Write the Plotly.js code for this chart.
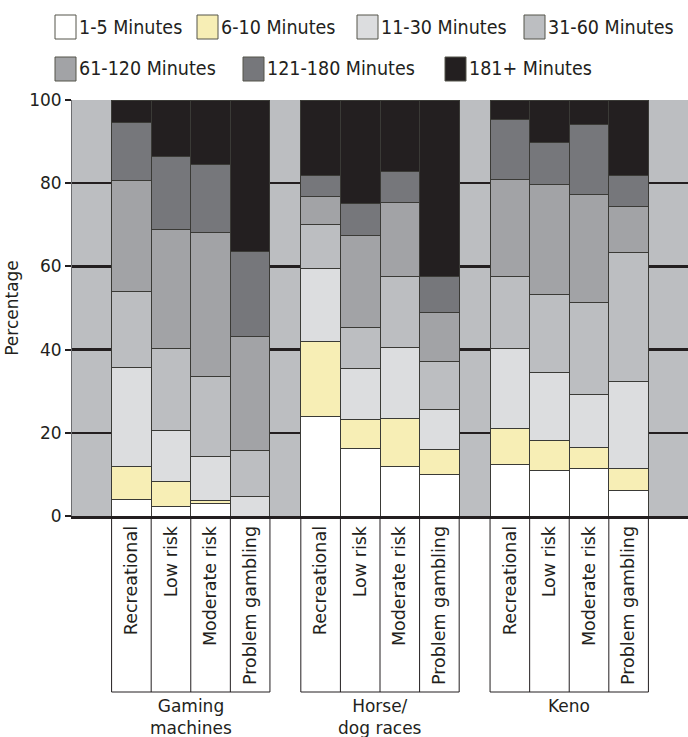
<!DOCTYPE html>
<html>
<head>
<meta charset="utf-8">
<script src="https://cdn.plot.ly/plotly-3.0.1.min.js"></script>
<style>
  html, body { margin: 0; padding: 0; background: #fff; }
  #chart { width: 688px; height: 737px; }
</style>
</head>
<body>
<div id="chart"></div>
<script>
// ---- Data ----
const groups = ["Gaming machines", "Horse/ dog races", "Keno"];
const groupLabels = ["Gaming<br>machines", "Horse/<br>dog races", "Keno"];
const categories = ["Recreational", "Low risk", "Moderate risk", "Problem gambling"];
const seriesNames = ["1-5 Minutes", "6-10 Minutes", "11-30 Minutes", "31-60 Minutes",
                     "61-120 Minutes", "121-180 Minutes", "181+ Minutes"];
// Each array: 12 values = 3 groups x 4 categories (group-major order)
const min1_5    = [4.0, 2.3, 3.0, 0.0,   23.9, 16.3, 11.8, 9.9,   12.4, 11.0, 11.4, 6.2];
const min6_10   = [7.9, 5.9, 0.8, 0.0,   18.1, 6.8, 11.6, 6.0,    8.6, 7.2, 5.0, 5.3];
const min11_30  = [23.9, 12.3, 10.5, 4.7, 17.5, 12.3, 17.0, 9.7,  19.3, 16.2, 12.8, 20.8];
const min31_60  = [18.1, 19.8, 19.3, 11.0, 10.6, 10.0, 17.1, 11.6, 17.3, 18.8, 22.2, 31.1];
const min61_120 = [26.8, 28.6, 34.6, 27.5, 6.7, 22.0, 17.9, 11.8, 23.4, 26.6, 25.8, 11.0];
const min121_180= [13.9, 17.4, 16.3, 20.3, 5.0, 7.7, 7.3, 8.5,    14.2, 10.1, 16.8, 7.4];
const min181    = [5.4, 13.7, 15.5, 36.5, 18.2, 24.9, 17.3, 42.5, 4.8, 10.1, 6.0, 18.2];
const seriesValues = [min1_5, min6_10, min11_30, min31_60, min61_120, min121_180, min181];
const yTicks = [0, 20, 40, 60, 80, 100];

// ---- Styling ----
const colors = ["#ffffff", "#f7eeb5", "#dcdddf", "#bcbec1", "#a2a3a6", "#76777b", "#231f20"];
const ink = "#231f20";
const tickFont = "DejaVu Sans, sans-serif";
const legendFont = "Liberation Sans Narrow, DejaVu Sans Condensed, sans-serif";

// ---- Layout geometry ----
const W = 688, H = 737;
const margin = {l: 72, r: 0, t: 100, b: 221};
const plotW = W - margin.l - margin.r, plotH = H - margin.t - margin.b;
const gap = 0.78;          // gap column width in bar units
const lead = 1;            // leading grey column
const nPer = categories.length;
const xMax = lead + groups.length * nPer + (groups.length - 1) * gap + 1;
function groupStart(g) { return lead + g * (nPer + gap); }

const xs = [], tickvals = [], ticktext = [];
groups.forEach((g, gi) => {
  categories.forEach((c, ci) => {
    const x = groupStart(gi) + ci + 0.5;
    xs.push(x); tickvals.push(x); ticktext.push(c);
  });
});

const traces = seriesNames.map((name, si) => ({
  type: "bar",
  name: name,
  x: xs,
  y: seriesValues[si],
  width: 1,
  marker: {color: colors[si], line: {color: "#3a3a36", width: 1}},
  hoverinfo: "x+y+name",
  showlegend: false
}));

// pixel -> paper helpers
const px2x = X => (X - margin.l) / plotW;
const py2y = Y => (H - margin.b - Y) / plotH;

const shapes = [];
const annotations = [];

// category boxes below axis
const boxBottom = py2y(692);
groups.forEach((g, gi) => {
  const s = groupStart(gi);
  for (let k = 0; k <= nPer; k++) {
    shapes.push({type: "line", xref: "x", yref: "paper", x0: s + k, x1: s + k,
      y0: 0, y1: boxBottom, line: {color: ink, width: 1}});
  }
  shapes.push({type: "line", xref: "x", yref: "paper", x0: s, x1: s + nPer,
    y0: boxBottom, y1: boxBottom, line: {color: ink, width: 1}});
  annotations.push({xref: "x", yref: "paper", x: s + nPer / 2, y: py2y(694),
    text: groupLabels[gi], showarrow: false, xanchor: "center", yanchor: "top",
    font: {family: tickFont, size: 17, color: ink}});
});

// custom legend
const legendItems = [
  {row: 0, box: 55}, {row: 0, box: 197}, {row: 0, box: 357}, {row: 0, box: 524},
  {row: 1, box: 55}, {row: 1, box: 243}, {row: 1, box: 445}
];
const rowCenters = [27, 69];
const boxW = 21, boxH = 24;
seriesNames.forEach((name, si) => {
  const it = legendItems[si];
  const cy = rowCenters[it.row];
  shapes.push({type: "rect", xref: "paper", yref: "paper",
    x0: px2x(it.box), x1: px2x(it.box + boxW),
    y0: py2y(cy - boxH / 2), y1: py2y(cy + boxH / 2),
    fillcolor: colors[si], line: {color: "#55554a", width: 1}});
  annotations.push({xref: "paper", yref: "paper", x: px2x(it.box + boxW + 1), y: py2y(cy),
    text: name, showarrow: false, xanchor: "left", yanchor: "middle",
    font: {family: legendFont, size: 19.5, color: ink}});
});

const layout = {
  width: W, height: H,
  margin: margin,
  paper_bgcolor: "#ffffff",
  plot_bgcolor: "#bcbec1",
  barmode: "stack",
  bargap: 0,
  showlegend: false,
  xaxis: {
    range: [0, xMax],
    tickvals: tickvals, ticktext: ticktext,
    tickangle: -90,
    tickfont: {family: tickFont, size: 17.5, color: ink},
    ticks: "", showgrid: false, zeroline: false,
    showline: true, linecolor: ink, linewidth: 3,
    fixedrange: true
  },
  yaxis: {
    range: [0, 100],
    tickvals: yTicks,
    tickfont: {family: tickFont, size: 17, color: ink},
    ticks: "outside", ticklen: 6, tickwidth: 2, tickcolor: ink,
    showgrid: true, gridcolor: ink, gridwidth: 2.5,
    zeroline: false,
    showline: true, linecolor: "#6d6e71", linewidth: 1,
    title: {text: "Percentage", font: {family: tickFont, size: 17, color: ink}, standoff: 6},
    fixedrange: true
  },
  shapes: shapes,
  annotations: annotations
};

Plotly.newPlot("chart", traces, layout, {displayModeBar: false, staticPlot: true});
</script>
</body>
</html>
